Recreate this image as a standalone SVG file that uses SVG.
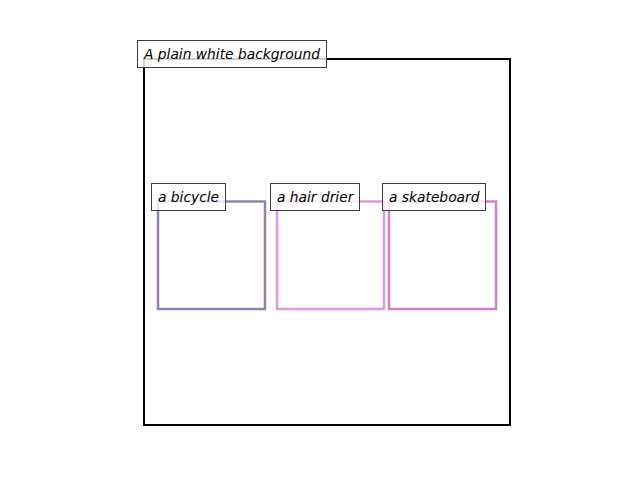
<svg xmlns="http://www.w3.org/2000/svg" width="640" height="480" viewBox="0 0 640 480">
<style>
.lbl{fill:#ffffff;fill-opacity:0.8;stroke:#3f3f3f;stroke-width:1}
.t{font-family:"DejaVu Sans",sans-serif;font-style:oblique;font-size:13.8px;fill:#000}
.box{fill:none;stroke-width:2.5}
</style>
<rect width="640" height="480" fill="#fff"/>
<g id="background">
<rect x="144" y="59" width="366" height="366" fill="none" stroke="#000" stroke-width="2"/>
</g>
<g id="bicycle">
<rect class="box" x="158" y="201.5" width="107" height="107.5" stroke="#9580b0"/>
</g>
<g id="hairdrier">
<rect class="box" x="277" y="201.5" width="107" height="107.5" stroke="#d89cdc"/>
</g>
<g id="skateboard">
<rect class="box" x="389" y="201.5" width="107" height="107.5" stroke="#d080c4"/>
</g>
<g id="labels">
<g id="label-bg">
<rect class="lbl" x="137.5" y="40.5" width="189" height="27"/>
<text class="t" x="144" y="58.5">A plain white background</text>
</g>
<g id="label-bicycle">
<rect class="lbl" x="151.5" y="183.5" width="74" height="27"/>
<text class="t" x="158" y="201.5">a bicycle</text>
</g>
<g id="label-hairdrier">
<rect class="lbl" x="270.5" y="183.5" width="89" height="27"/>
<text class="t" x="277" y="201.5">a hair drier</text>
</g>
<g id="label-skateboard">
<rect class="lbl" x="382.5" y="183.5" width="103" height="27"/>
<text class="t" x="389" y="201.5">a skateboard</text>
</g>
</g>
<g id="connectors"/>
</svg>
